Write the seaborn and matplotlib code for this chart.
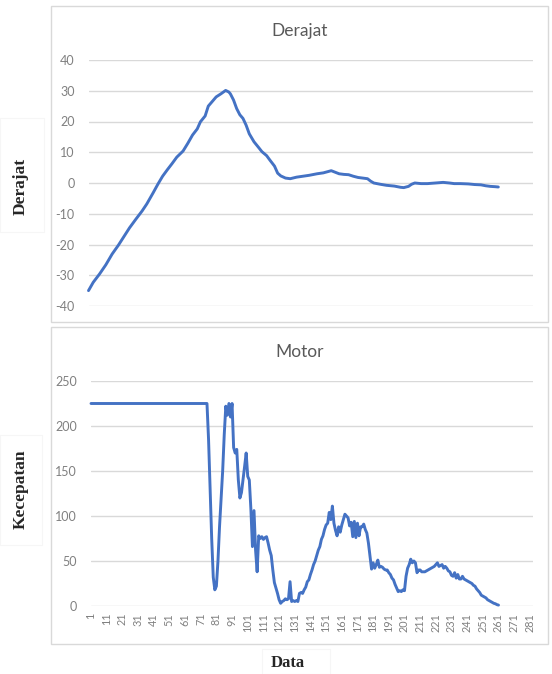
import numpy as np
import pandas as pd
import matplotlib
matplotlib.use("Agg")
import matplotlib.pyplot as plt
from matplotlib.patches import Rectangle
import seaborn as sns

# ---------------- data ----------------
derajat_idx = [1, 4, 8, 12, 16, 20, 24, 27, 31, 35, 38, 42, 45, 48, 51, 54, 57, 61, 64, 67,
               70, 72, 75, 77, 80, 82, 85, 88, 90, 91, 93, 95, 97, 99, 101, 103, 106, 109,
               111, 114, 116, 119, 121, 123, 126, 129, 133, 137, 141, 146, 150, 155, 157,
               160, 163, 166, 169, 172, 175, 178, 180, 182, 186, 190, 195, 199, 201, 204,
               206, 208, 212, 216, 221, 226, 230, 233, 237, 242, 246, 250, 253, 256, 259, 261]
derajat_val = [-35.0, -32.3, -29.6, -26.6, -23.1, -20.2, -17.0, -14.6, -11.8, -9.1, -6.8, -3.2,
               -0.4, 2.2, 4.3, 6.3, 8.4, 10.4, 12.9, 15.6, 17.6, 19.9, 21.8, 25.0, 26.8,
               28.0, 29.0, 30.1, 29.6, 29.0, 27.0, 24.2, 22.2, 21.0, 18.8, 16.0, 13.4, 11.5,
               10.2, 8.9, 7.5, 5.5, 3.2, 2.3, 1.6, 1.4, 1.9, 2.2, 2.5, 3.0, 3.3, 4.0, 3.6,
               3.0, 2.8, 2.7, 2.2, 1.8, 1.6, 1.4, 0.6, 0.0, -0.4, -0.75, -1.0, -1.4, -1.5,
               -1.1, -0.4, 0.0, -0.2, -0.2, 0.0, 0.2, 0.0, -0.2, -0.2, -0.3, -0.5, -0.6,
               -0.9, -1.1, -1.2, -1.3]

motor_idx = [1, 75, 76, 77, 78, 79, 80, 81, 82, 83, 84, 85, 86, 87, 88, 89, 90, 91, 92, 93,
             94, 95, 96, 97, 98, 99, 100, 101, 102, 103, 104, 105, 106, 107, 108, 109, 110,
             111, 112, 113, 114, 115, 116, 117, 118, 119, 120, 121, 122, 123, 124, 125, 126,
             127, 128, 129, 130, 131, 132, 133, 134, 135, 136, 137, 138, 139, 140, 141, 142,
             143, 144, 145, 146, 147, 148, 149, 150, 151, 152, 153, 154, 155, 156, 157, 158,
             159, 160, 161, 162, 163, 164, 165, 166, 167, 168, 169, 170, 171, 172, 173, 174,
             175, 176, 177, 178, 179, 180, 181, 182, 183, 184, 185, 186, 187, 188, 189, 190,
             191, 192, 193, 194, 195, 196, 197, 198, 199, 200, 201, 202, 203, 204, 205, 206,
             207, 208, 209, 210, 211, 212, 213, 214, 215, 216, 217, 218, 219, 220, 221, 222,
             223, 224, 225, 226, 227, 228, 229, 230, 231, 232, 233, 234, 235, 236, 237, 238,
             239, 240, 241, 242, 243, 244, 245, 246, 247, 248, 249, 250, 251, 252, 253, 254,
             255, 256, 257, 258, 259, 260, 261]
motor_val = [225, 225, 185, 130, 75, 32, 18, 22, 50, 88, 118, 150, 190, 222, 212, 225, 210,
             225, 176, 170, 174, 140, 120, 126, 140, 155, 170, 144, 140, 108, 66, 106, 62, 38,
             78, 75, 77, 74, 76, 77, 70, 62, 56, 40, 26, 20, 14, 7, 3, 5, 6, 8, 7, 8, 27, 5, 6,
             5, 6, 5, 14, 15, 14, 18, 21, 27, 29, 35, 40, 46, 50, 56, 62, 66, 74, 78, 85, 90,
             92, 104, 96, 111, 92, 84, 78, 88, 82, 90, 96, 102, 100, 98, 89, 93, 77, 94, 76,
             92, 78, 88, 88, 91, 85, 81, 70, 55, 41, 48, 42, 46, 51, 43, 44, 43, 41, 40, 40,
             37, 35, 31, 29, 24, 20, 16, 17, 16, 18, 17, 33, 42, 46, 52, 48, 50, 48, 37, 40,
             40, 38, 38, 38, 39, 40, 41, 42, 43, 44, 46, 48, 44, 45, 46, 42, 44, 42, 39, 38,
             34, 33, 37, 31, 35, 30, 30, 33, 30, 29, 28, 27, 26, 25, 23, 22, 19, 17, 15, 12,
             11, 10, 9, 7, 6, 5, 4, 3, 2.5, 1.5, 1]

x_ticks = list(range(1, 282, 10))
derajat_ticks = [-40, -30, -20, -10, 0, 10, 20, 30, 40]
motor_ticks = [0, 50, 100, 150, 200, 250]

# ---------------- style ----------------
sns.set_theme(style="white")
plt.rcParams['font.family'] = ['Lato', 'DejaVu Sans']

LINE = "#4472C4"
GRID = "#d9d9d9"
TICKC = "#808080"
TITLEC = "#595959"

W, H = 552, 674
fig = plt.figure(figsize=(W / 100, H / 100), dpi=100)
fig.patch.set_facecolor("white")


def fx(px):
    return px / W


def fy(py):
    return 1 - py / H


# panel borders
for (x0, y0, x1, y1) in [(50.5, 5.5, 547.5, 322), (50.5, 327, 547.5, 643.5)]:
    fig.add_artist(Rectangle((fx(x0), fy(y1)), fx(x1) - fx(x0), fy(y0) - fy(y1),
                             transform=fig.transFigure, fill=False,
                             edgecolor="#d9d9d9", linewidth=1.0))
# very faint label boxes
for (x0, y0, x1, y1) in [(0, 118, 44, 232), (0, 435, 42, 545), (262, 649, 330, 674)]:
    fig.add_artist(Rectangle((fx(x0), fy(y1)), fx(x1) - fx(x0), fy(y0) - fy(y1),
                             transform=fig.transFigure, fill=False,
                             edgecolor="#f6f6f6", linewidth=0.8))

ax1 = fig.add_axes([fx(88.5), fy(306), fx(533) - fx(88.5), fy(60) - fy(306)])
ax2 = fig.add_axes([fx(91), fy(606), fx(533) - fx(91), fy(381) - fy(606)])

df1 = pd.DataFrame({"idx": derajat_idx, "val": derajat_val})
df2 = pd.DataFrame({"idx": motor_idx, "val": motor_val})

sns.lineplot(data=df1, x="idx", y="val", ax=ax1, color=LINE, linewidth=2.1,
             estimator=None, zorder=3)
sns.lineplot(data=df2, x="idx", y="val", ax=ax2, color=LINE, linewidth=2.1,
             estimator=None, zorder=3)

for ax, ticks in [(ax1, derajat_ticks), (ax2, motor_ticks)]:
    ax.set_xlim(1, 283)
    ax.set_ylim(ticks[0], ticks[-1])
    ax.set_yticks(ticks)
    ax.set_yticklabels([str(t) for t in ticks], color=TICKC, fontsize=9)
    ax.yaxis.grid(True, color=GRID, linewidth=1.0)
    ax.xaxis.grid(False)
    ax.set_axisbelow(True)
    for s in ax.spines.values():
        s.set_visible(False)
    ax.tick_params(axis="y", length=0, pad=10)
    ax.set_xlabel("")
    ax.set_ylabel("")
    ax.set_facecolor("none")
    for line in ax.lines:
        line.set_clip_on(False)

ax1.set_xticks([])
ax2.set_xticks(x_ticks)
ax2.set_xticklabels([str(t) for t in x_ticks], rotation=90, color=TICKC, fontsize=7.8)
ax2.tick_params(axis="x", length=0, pad=5)

# titles
fig.text(fx(300), fy(31), "Derajat", ha="center", va="center", fontsize=12.5, color=TITLEC)
fig.text(fx(300), fy(352), "Motor", ha="center", va="center", fontsize=12.5, color=TITLEC)

# axis labels
serif = dict(family=["Liberation Serif", "DejaVu Serif"], fontweight="bold")
fig.text(fx(21), fy(186), "Derajat", rotation=90, ha="center", va="center",
         fontsize=12.5, **serif)
fig.text(fx(21), fy(489), "Kecepatan", rotation=90, ha="center", va="center",
         fontsize=12.5, **serif)
fig.text(fx(288), fy(663), "Data", ha="center", va="center", fontsize=12, **serif)

fig.savefig("out.png", dpi=100, facecolor="white")
